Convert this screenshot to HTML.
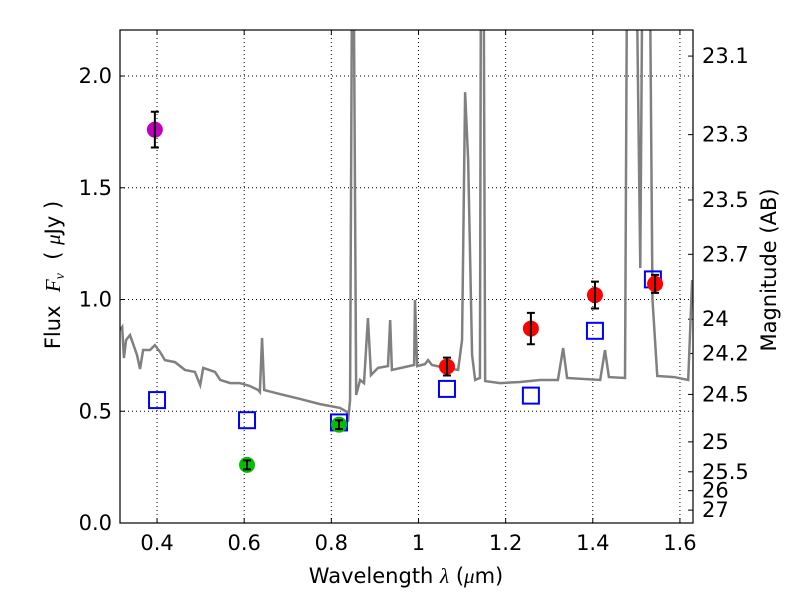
<!DOCTYPE html>
<html><head><meta charset="utf-8"><style>
body{margin:0;background:#fff}
svg{display:block;font-family:"DejaVu Sans","Liberation Sans",sans-serif}
</style></head><body>
<svg id="chart" width="800" height="600" viewBox="0 0 800 600"></svg>
<script>
const specWave=[0.315,0.320,0.324,0.329,0.338,0.354,0.361,0.368,0.384,0.395,0.407,0.418,0.441,0.464,0.487,0.499,0.506,0.533,0.545,0.568,0.590,0.613,0.632,0.636,0.641,0.646,0.682,0.728,0.774,0.820,0.836,0.838,0.843,0.847,0.852,0.857,0.866,0.875,0.884,0.891,0.907,0.930,0.935,0.939,0.969,0.990,0.992,0.997,1.015,1.022,1.031,1.061,1.091,1.100,1.107,1.114,1.123,1.130,1.141,1.143,1.150,1.153,1.187,1.233,1.279,1.320,1.332,1.341,1.417,1.428,1.437,1.474,1.478,1.502,1.509,1.513,1.532,1.537,1.548,1.587,1.619,1.628];
const specFlux=[0.864,0.877,0.738,0.819,0.841,0.752,0.689,0.774,0.774,0.796,0.765,0.729,0.720,0.685,0.676,0.617,0.694,0.676,0.640,0.626,0.626,0.613,0.595,0.586,0.828,0.595,0.577,0.555,0.532,0.515,0.497,0.452,0.550,2.25,2.25,0.573,0.640,0.626,0.917,0.662,0.694,0.702,0.908,0.685,0.698,0.707,0.998,0.702,0.711,0.729,0.707,0.694,0.685,0.819,1.928,1.624,0.752,0.640,0.649,2.25,2.25,0.635,0.626,0.631,0.640,0.640,0.783,0.649,0.640,0.774,0.653,0.649,2.25,2.25,1.141,2.25,2.25,1.0,0.658,0.653,0.640,1.087];
const modelWave=[0.4,0.6065,0.8176,1.0654,1.538,1.258,1.405];
const modelFlux=[0.55,0.46,0.45,0.60,1.09,0.57,0.86];
const obsWave=[0.395,0.6065,0.8176,1.0654,1.258,1.405,1.543];
const obsFlux=[1.76,0.26,0.44,0.70,0.87,1.02,1.07];
const obsErr=[0.08,0.02,0.02,0.04,0.07,0.06,0.04];
const obsColor=['#bf00bf','#00bf00','#00bf00','red','red','red','red'];
const xTicks=[0.4,0.6,0.8,1.0,1.2,1.4,1.6];
const xTickLabels=['0.4','0.6','0.8','1','1.2','1.4','1.6'];
const yTicks=[0,0.5,1.0,1.5,2.0];
const yTickLabels=['0.0','0.5','1.0','1.5','2.0'];
const magTicks=[23.1,23.3,23.5,23.7,24,24.2,24.5,25,25.5,26,27];
const magLabels=['23.1','23.3','23.5','23.7','24','24.2','24.5','25','25.5','26','27'];

const L=120,R=693,T=30,B=523,xmin=0.315,xmax=1.630,ymin=0,ymax=2.206;
const X=v=>L+(v-xmin)/(xmax-xmin)*(R-L);
const Y=v=>B-(v-ymin)/(ymax-ymin)*(B-T);
const svg=document.getElementById('chart');
const NS='http://www.w3.org/2000/svg';
function mk(tag,attrs,parent){const e=document.createElementNS(NS,tag);for(const k in attrs)e.setAttribute(k,attrs[k]);(parent||svg).appendChild(e);return e;}
const defs=mk('defs',{});
const cp=mk('clipPath',{id:'clip'},defs);mk('rect',{x:L,y:T,width:R-L,height:B-T},cp);

xTicks.forEach((t,i)=>{
  const g=mk('line',{x1:X(t),x2:X(t),y1:T,y2:B,stroke:'#000','stroke-width':1,'stroke-dasharray':'1,3'});
  
  
  mk('line',{x1:X(t),x2:X(t),y1:B,y2:B-5,stroke:'#000'});
  mk('line',{x1:X(t),x2:X(t),y1:T,y2:T+5,stroke:'#000'});
  const tx=mk('text',{x:X(t),y:B+27,'text-anchor':'middle','font-size':21});
  tx.textContent=xTickLabels[i];
  
  
});
yTicks.forEach((t,i)=>{
  const g=mk('line',{x1:L,x2:R,y1:Y(t),y2:Y(t),stroke:'#000','stroke-width':1,'stroke-dasharray':'1,3'});
  
  
  mk('line',{x1:L,x2:L+5,y1:Y(t),y2:Y(t),stroke:'#000'});
  const tx=mk('text',{x:L-8,y:Y(t)+7,'text-anchor':'end','font-size':21});
  tx.textContent=yTickLabels[i];
  
  
});
magTicks.forEach((m,i)=>{
  const f=Math.pow(10,(23.9-m)/2.5);
  mk('line',{x1:R,x2:R-5,y1:Y(f),y2:Y(f),stroke:'#000'});
  const tx=mk('text',{x:R+9,y:Y(f)+7,'font-size':21});
  tx.textContent=magLabels[i];
  
  
});

const sp=mk('polyline',{points:specWave.map((w,i)=>X(w)+','+Y(specFlux[i])).join(' '),fill:'none',stroke:'#808080','stroke-width':2.5,'clip-path':'url(#clip)'});



modelWave.forEach((w,i)=>{
  const s=mk('rect',{x:X(w)-8,y:Y(modelFlux[i])-8,width:16,height:16,fill:'none',stroke:'#0000ff','stroke-width':2});
  
  
});
obsWave.forEach((w,i)=>{
  const r=8;
  const c=mk('circle',{cx:X(w),cy:Y(obsFlux[i]),r:r,fill:obsColor[i]});
  
  
  const x=X(w),y1=Y(obsFlux[i]-obsErr[i]),y2=Y(obsFlux[i]+obsErr[i]);
  const e=mk('path',{d:`M${x},${y1}V${y2}M${x-4},${y1}H${x+4}M${x-4},${y2}H${x+4}`,stroke:'#000','stroke-width':2,fill:'none'});
  
  
});

const fr=mk('rect',{x:L,y:T,width:R-L,height:B-T,fill:'none',stroke:'#000','stroke-width':1.2});



const xl=mk('text',{x:406,y:583,'text-anchor':'middle','font-size':21,'xml:space':'preserve'});
xl.innerHTML='Wavelength  <tspan font-style="italic" font-family="Liberation Serif, serif">λ</tspan> (<tspan font-style="italic" font-family="Liberation Serif, serif">μ</tspan>m)';


const yl=mk('text',{x:0,y:0,'text-anchor':'middle','font-size':21,transform:'translate(60,275) rotate(-90)'});
yl.innerHTML='Flux&#160;&#160;<tspan font-style="italic" font-family="Liberation Serif, serif">F<tspan font-size="14" dy="4">ν</tspan></tspan><tspan dy="-4">&#160;&#160;(&#160;</tspan><tspan font-style="italic" font-family="Liberation Serif, serif">μ</tspan>Jy )';


const yr=mk('text',{x:0,y:0,'text-anchor':'middle','font-size':21,transform:'translate(776,270) rotate(-90)'});
yr.textContent='Magnitude (AB)';


</script>
</body></html>
